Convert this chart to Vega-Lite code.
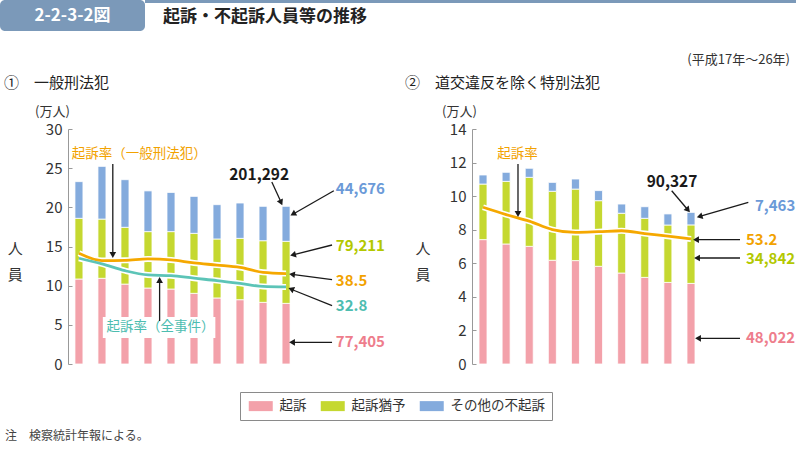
{
"$schema":"https://vega.github.io/schema/vega-lite/v6.json",
"padding":{"left":0,"top":0,"right":0,"bottom":0},
"background":"white",
"config":{"font":"Noto Sans CJK JP","view":{"stroke":null},
"axis":{"labelColor":"#333","domainColor":"#999","tickColor":"#999","grid":false,"labelFontSize":15,"titleFontWeight":"normal","titleColor":"#333","titleFontSize":13}},
"datasets":{
"bars1":[
{"year":17,"c":"起訴","v":10.85,"o":1},{"year":17,"c":"起訴猶予","v":7.75,"o":2},{"year":17,"c":"その他の不起訴","v":4.68,"o":3},
{"year":18,"c":"起訴","v":10.94,"o":1},{"year":18,"c":"起訴猶予","v":7.56,"o":2},{"year":18,"c":"その他の不起訴","v":6.73,"o":3},
{"year":19,"c":"起訴","v":10.2,"o":1},{"year":19,"c":"起訴猶予","v":7.25,"o":2},{"year":19,"c":"その他の不起訴","v":6.08,"o":3},
{"year":20,"c":"起訴","v":9.7,"o":1},{"year":20,"c":"起訴猶予","v":7.2,"o":2},{"year":20,"c":"その他の不起訴","v":5.2,"o":3},
{"year":21,"c":"起訴","v":9.57,"o":1},{"year":21,"c":"起訴猶予","v":7.33,"o":2},{"year":21,"c":"その他の不起訴","v":5.0,"o":3},
{"year":22,"c":"起訴","v":9.02,"o":1},{"year":22,"c":"起訴猶予","v":7.66,"o":2},{"year":22,"c":"その他の不起訴","v":4.72,"o":3},
{"year":23,"c":"起訴","v":8.43,"o":1},{"year":23,"c":"起訴猶予","v":7.53,"o":2},{"year":23,"c":"その他の不起訴","v":4.38,"o":3},
{"year":24,"c":"起訴","v":8.21,"o":1},{"year":24,"c":"起訴猶予","v":7.83,"o":2},{"year":24,"c":"その他の不起訴","v":4.51,"o":3},
{"year":25,"c":"起訴","v":7.87,"o":1},{"year":25,"c":"起訴猶予","v":7.87,"o":2},{"year":25,"c":"その他の不起訴","v":4.39,"o":3},
{"year":26,"c":"起訴","v":7.7405,"o":1},{"year":26,"c":"起訴猶予","v":7.9211,"o":2},{"year":26,"c":"その他の不起訴","v":4.4676,"o":3}],
"bars2":[
{"year":17,"c":"起訴","v":7.41,"o":1},{"year":17,"c":"起訴猶予","v":3.31,"o":2},{"year":17,"c":"その他の不起訴","v":0.54,"o":3},
{"year":18,"c":"起訴","v":7.15,"o":1},{"year":18,"c":"起訴猶予","v":3.73,"o":2},{"year":18,"c":"その他の不起訴","v":0.54,"o":3},
{"year":19,"c":"起訴","v":7.01,"o":1},{"year":19,"c":"起訴猶予","v":4.11,"o":2},{"year":19,"c":"その他の不起訴","v":0.54,"o":3},
{"year":20,"c":"起訴","v":6.18,"o":1},{"year":20,"c":"起訴猶予","v":4.11,"o":2},{"year":20,"c":"その他の不起訴","v":0.53,"o":3},
{"year":21,"c":"起訴","v":6.16,"o":1},{"year":21,"c":"起訴猶予","v":4.26,"o":2},{"year":21,"c":"その他の不起訴","v":0.6,"o":3},
{"year":22,"c":"起訴","v":5.82,"o":1},{"year":22,"c":"起訴猶予","v":3.91,"o":2},{"year":22,"c":"その他の不起訴","v":0.6,"o":3},
{"year":23,"c":"起訴","v":5.42,"o":1},{"year":23,"c":"起訴猶予","v":3.56,"o":2},{"year":23,"c":"その他の不起訴","v":0.55,"o":3},
{"year":24,"c":"起訴","v":5.16,"o":1},{"year":24,"c":"起訴猶予","v":3.52,"o":2},{"year":24,"c":"その他の不起訴","v":0.69,"o":3},
{"year":25,"c":"起訴","v":4.86,"o":1},{"year":25,"c":"起訴猶予","v":3.42,"o":2},{"year":25,"c":"その他の不起訴","v":0.66,"o":3},
{"year":26,"c":"起訴","v":4.8022,"o":1},{"year":26,"c":"起訴猶予","v":3.4842,"o":2},{"year":26,"c":"その他の不起訴","v":0.7463,"o":3}],
"rate1":[
{"year":17,"s":"一般刑法犯","r":47.1},{"year":18,"s":"一般刑法犯","r":44.0},{"year":19,"s":"一般刑法犯","r":44.1},{"year":20,"s":"一般刑法犯","r":44.7},{"year":21,"s":"一般刑法犯","r":44.3},{"year":22,"s":"一般刑法犯","r":43.0},{"year":23,"s":"一般刑法犯","r":42.1},{"year":24,"s":"一般刑法犯","r":41.1},{"year":25,"s":"一般刑法犯","r":39.0},{"year":26,"s":"一般刑法犯","r":38.5},
{"year":17,"s":"全事件","r":45.0},{"year":18,"s":"全事件","r":42.6},{"year":19,"s":"全事件","r":39.7},{"year":20,"s":"全事件","r":37.9},{"year":21,"s":"全事件","r":37.6},{"year":22,"s":"全事件","r":36.5},{"year":23,"s":"全事件","r":35.5},{"year":24,"s":"全事件","r":34.3},{"year":25,"s":"全事件","r":33.0},{"year":26,"s":"全事件","r":32.8}],
"rate2":[
{"year":17,"s":"特別法犯","r":66.7},{"year":18,"s":"特別法犯","r":63.6},{"year":19,"s":"特別法犯","r":60.8},{"year":20,"s":"特別法犯","r":57.2},{"year":21,"s":"特別法犯","r":56.0},{"year":22,"s":"特別法犯","r":56.3},{"year":23,"s":"特別法犯","r":56.7},{"year":24,"s":"特別法犯","r":55.5},{"year":25,"s":"特別法犯","r":54.4},{"year":26,"s":"特別法犯","r":53.2}]
},
"title":{"text":"注　検察統計年報による。","orient":"bottom","anchor":"start","frame":"bounds","dx":5,"offset":10,"fontSize":12,"fontWeight":"normal","color":"#444"},
"spacing":23,
"vconcat":[
{"hconcat":[
 {"width":145,"height":31,"view":{"fill":"#7B99B9","stroke":null,"cornerRadius":5},"data":{"values":[{}]},"mark":{"type":"text","text":"2-2-3-2図","color":"white","fontSize":17,"fontWeight":"bold"}},
 {"width":651,"height":3,"view":{"fill":"#7B99B9","stroke":null},"data":{"values":[{}]},"mark":{"type":"text","text":"","fontSize":0},
  "title":{"text":"起訴・不起訴人員等の推移","orient":"bottom","anchor":"start","frame":"group","dx":18,"offset":6,"fontSize":17,"fontWeight":"bold","color":"#222"}}
],"spacing":0},
{"hconcat":[
{"width":297,"height":235,
 "title":{"text":"①　一般刑法犯","anchor":"start","frame":"group","dx":4,"offset":14,"fontSize":15,"fontWeight":"normal","color":"#222"},
 "layer":[
  {"data":{"name":"bars1"},"mark":{"type":"bar","width":8,"stroke":"white","strokeWidth":0.8},
   "encoding":{
    "x":{"field":"year","type":"quantitative","scale":{"domain":[16.524,26.476],"range":[68,297],"padding":0,"nice":false,"zero":false},
      "axis":{"values":[17,20,26],"labelExpr":"datum.value == 17 ? '平成17' : datum.label","ticks":false,"title":null,"labelPadding":5,"labelFlush":false,
        "labelAlign":{"condition":{"test":"datum.value == 17","value":"right"},"value":"center"},
        "labelOffset":{"condition":{"test":"datum.value == 17","value":7},"value":0}}},
    "y":{"field":"v","type":"quantitative","stack":"zero","scale":{"domain":[0,30],"nice":false},
      "axis":{"orient":"left","offset":-68,"values":[0,5,10,15,20,25,30],"title":"(万人)","titleAngle":0,"titleX":-16,"titleY":-18,"titleAlign":"center","titleBaseline":"middle","tickSize":-4,"labelPadding":10}},
    "color":{"field":"c","type":"nominal","scale":{"domain":["起訴","起訴猶予","その他の不起訴"],"range":["#F3A1AA","#C5D830","#84ABDD"]},
      "legend":{"orient":"none","legendX":240,"legendY":392,"direction":"horizontal","title":null,"strokeColor":"#8a8a8a","padding":7,"symbolType":"M-1,-1H3.8V1H-1Z","symbolSize":100,"symbolStrokeWidth":0,"labelFontSize":13.5,"labelOffset":19,"columnPadding":12,"labelColor":"#333"}},
    "order":{"field":"o","type":"quantitative"}}},
  {"layer":[
   {"data":{"values":[{}]},"mark":{"type":"rect","color":"white"},"encoding":{"x":{"datum":18.038,"axis":null},"x2":{"datum":22.928},"y":{"datum":20.0,"axis":null},"y2":{"datum":11.06}}},
   {"data":{"name":"rate1"},"mark":{"type":"line","color":"white","strokeWidth":6,"interpolate":"monotone"},
    "encoding":{"x":{"field":"year","type":"quantitative","axis":null},"y":{"field":"r","type":"quantitative","scale":{"domain":[0,100],"nice":false},
      "axis":{"orient":"right","values":[0,20,40,60,80,100],"title":"(%)","titleAngle":0,"titleX":16,"titleY":-18,"titleAlign":"center","titleBaseline":"middle","tickSize":-4,"labelPadding":12}},"detail":{"field":"s"}}},
   {"data":{"name":"rate1"},"mark":{"type":"line","strokeWidth":2.8,"interpolate":"monotone"},
    "encoding":{"x":{"field":"year","type":"quantitative","axis":null},"y":{"field":"r","type":"quantitative","axis":null},
     "stroke":{"field":"s","type":"nominal","scale":{"domain":["一般刑法犯","全事件","特別法犯"],"range":["#F5A800","#5CC4B7","#F5A800"]},"legend":null}}},
   {"data":{"values":[{}]},"mark":{"type":"text","text":["人","員"],"lineHeight":26,"align":"center","baseline":"middle","fontSize":15,"color":"#333"},"encoding":{"x":{"datum":14.231,"axis":null},"y":{"datum":48.94,"axis":null}}},
   {"data":{"values":[{}]},"mark":{"type":"text","text":"起訴率（一般刑法犯）","align":"left","baseline":"middle","fontSize":13.5,"color":"#F2A200"},"encoding":{"x":{"datum":16.684,"axis":null},"y":{"datum":89.36,"axis":null}}},
   {"data":{"values":[{}]},"mark":{"type":"text","text":"起訴率（全事件）","align":"left","baseline":"middle","fontSize":13.5,"color":"#4DBDB0"},"encoding":{"x":{"datum":18.199,"axis":null},"y":{"datum":15.6,"axis":null}}},
   {"data":{"values":[{}]},"mark":{"type":"text","text":"201,292","align":"center","baseline":"middle","fontSize":15.5,"fontWeight":"bold","color":"#1a1a1a"},"encoding":{"x":{"datum":24.832,"axis":null},"y":{"datum":80.43,"axis":null}}},
   {"data":{"values":[{}]},"mark":{"type":"text","text":"44,676","align":"left","baseline":"middle","fontSize":15,"fontWeight":"bold","color":"#6B9AD8"},"encoding":{"x":{"datum":28.164,"axis":null},"y":{"datum":74.47,"axis":null}}},
   {"data":{"values":[{}]},"mark":{"type":"text","text":"79,211","align":"left","baseline":"middle","fontSize":15,"fontWeight":"bold","color":"#B3C800"},"encoding":{"x":{"datum":28.164,"axis":null},"y":{"datum":50.34,"axis":null}}},
   {"data":{"values":[{}]},"mark":{"type":"text","text":"38.5","align":"left","baseline":"middle","fontSize":15,"fontWeight":"bold","color":"#F2A200"},"encoding":{"x":{"datum":28.164,"axis":null},"y":{"datum":35.46,"axis":null}}},
   {"data":{"values":[{}]},"mark":{"type":"text","text":"32.8","align":"left","baseline":"middle","fontSize":15,"fontWeight":"bold","color":"#4DBDB0"},"encoding":{"x":{"datum":28.164,"axis":null},"y":{"datum":24.82,"axis":null}}},
   {"data":{"values":[{}]},"mark":{"type":"text","text":"77,405","align":"left","baseline":"middle","fontSize":15,"fontWeight":"bold","color":"#EE7D8C"},"encoding":{"x":{"datum":28.164,"axis":null},"y":{"datum":9.22,"axis":null}}},
   {"data":{"values":[{}]},"mark":{"type":"rule","color":"#1a1a1a","strokeWidth":1.3},"encoding":{"x":{"datum":18.471,"axis":null},"y":{"datum":85.11,"axis":null},"x2":{"datum":18.471},"y2":{"datum":47.66}}},
   {"data":{"values":[{}]},"mark":{"type":"rule","color":"#1a1a1a","strokeWidth":1.3},"encoding":{"x":{"datum":20.505,"axis":null},"y":{"datum":18.3,"axis":null},"x2":{"datum":20.505},"y2":{"datum":34.47}}},
   {"data":{"values":[{}]},"mark":{"type":"rule","color":"#1a1a1a","strokeWidth":1.3},"encoding":{"x":{"datum":25.382,"axis":null},"y":{"datum":77.45,"axis":null},"x2":{"datum":25.741},"y2":{"datum":69.79}}},
   {"data":{"values":[{}]},"mark":{"type":"rule","color":"#1a1a1a","strokeWidth":1.3},"encoding":{"x":{"datum":28.077,"axis":null},"y":{"datum":73.74,"axis":null},"x2":{"datum":26.39},"y2":{"datum":64.26}}},
   {"data":{"values":[{}]},"mark":{"type":"rule","color":"#1a1a1a","strokeWidth":1.3},"encoding":{"x":{"datum":27.999,"axis":null},"y":{"datum":50.64,"axis":null},"x2":{"datum":26.39},"y2":{"datum":46.64}}},
   {"data":{"values":[{}]},"mark":{"type":"rule","color":"#1a1a1a","strokeWidth":1.3},"encoding":{"x":{"datum":27.999,"axis":null},"y":{"datum":35.87,"axis":null},"x2":{"datum":26.347},"y2":{"datum":38.0}}},
   {"data":{"values":[{}]},"mark":{"type":"rule","color":"#1a1a1a","strokeWidth":1.3},"encoding":{"x":{"datum":27.999,"axis":null},"y":{"datum":24.81,"axis":null},"x2":{"datum":26.303},"y2":{"datum":31.49}}},
   {"data":{"values":[{}]},"mark":{"type":"rule","color":"#1a1a1a","strokeWidth":1.3},"encoding":{"x":{"datum":27.999,"axis":null},"y":{"datum":9.23,"axis":null},"x2":{"datum":26.347},"y2":{"datum":9.23}}},
   {"data":{"values":[{}]},"mark":{"type":"point","shape":"triangle-down","filled":true,"size":45,"color":"#1a1a1a","opacity":1},"encoding":{"x":{"datum":18.471,"axis":null},"y":{"datum":46.38,"axis":null}}},
   {"data":{"values":[{}]},"mark":{"type":"point","shape":"triangle-up","filled":true,"size":45,"color":"#1a1a1a","opacity":1},"encoding":{"x":{"datum":20.505,"axis":null},"y":{"datum":35.74,"axis":null}}},
   {"data":{"values":[{}]},"mark":{"type":"point","shape":"triangle-right","angle":64.8,"filled":true,"size":45,"color":"#1a1a1a","opacity":1},"encoding":{"x":{"datum":25.784,"axis":null},"y":{"datum":68.72,"axis":null}}},
   {"data":{"values":[{}]},"mark":{"type":"point","shape":"triangle-right","angle":150.6,"filled":true,"size":45,"color":"#1a1a1a","opacity":1},"encoding":{"x":{"datum":26.303,"axis":null},"y":{"datum":63.83,"axis":null}}},
   {"data":{"values":[{}]},"mark":{"type":"point","shape":"triangle-right","angle":165.9,"filled":true,"size":45,"color":"#1a1a1a","opacity":1},"encoding":{"x":{"datum":26.303,"axis":null},"y":{"datum":46.43,"axis":null}}},
   {"data":{"values":[{}]},"mark":{"type":"point","shape":"triangle-right","angle":187.5,"filled":true,"size":45,"color":"#1a1a1a","opacity":1},"encoding":{"x":{"datum":26.26,"axis":null},"y":{"datum":38.13,"axis":null}}},
   {"data":{"values":[{}]},"mark":{"type":"point","shape":"triangle-right","angle":201.9,"filled":true,"size":45,"color":"#1a1a1a","opacity":1},"encoding":{"x":{"datum":26.221,"axis":null},"y":{"datum":31.87,"axis":null}}},
   {"data":{"values":[{}]},"mark":{"type":"point","shape":"triangle-right","angle":180,"filled":true,"size":45,"color":"#1a1a1a","opacity":1},"encoding":{"x":{"datum":26.26,"axis":null},"y":{"datum":9.23,"axis":null}}}
  ]}
 ],
 "resolve":{"scale":{"y":"independent"}}
},
{"width":302,"height":235,
 "title":{"text":"②　道交違反を除く特別法犯","anchor":"start","frame":"group","dx":5,"offset":14,"fontSize":15,"fontWeight":"normal","color":"#222"},
 "layer":[
  {"data":{"name":"bars2"},"mark":{"type":"bar","width":8,"stroke":"white","strokeWidth":0.8},
   "encoding":{
    "x":{"field":"year","type":"quantitative","scale":{"domain":[16.524,26.476],"range":[72,302],"padding":0,"nice":false,"zero":false},
      "axis":{"values":[17,20,26],"labelExpr":"datum.value == 17 ? '平成17' : datum.label","ticks":false,"title":null,"labelPadding":5,"labelFlush":false,
        "labelAlign":{"condition":{"test":"datum.value == 17","value":"right"},"value":"center"},
        "labelOffset":{"condition":{"test":"datum.value == 17","value":7},"value":0}}},
    "y":{"field":"v","type":"quantitative","stack":"zero","scale":{"domain":[0,14],"nice":false},
      "axis":{"orient":"left","offset":-72,"values":[0,2,4,6,8,10,12,14],"title":"(万人)","titleAngle":0,"titleX":-13,"titleY":-18,"titleAlign":"center","titleBaseline":"middle","tickSize":-4,"labelPadding":10}},
    "color":{"field":"c","type":"nominal","scale":{"domain":["起訴","起訴猶予","その他の不起訴"],"range":["#F3A1AA","#C5D830","#84ABDD"]},
      "legend":{"orient":"none","legendX":240,"legendY":392,"direction":"horizontal","title":null,"strokeColor":"#8a8a8a","padding":7,"symbolType":"M-1,-1H3.8V1H-1Z","symbolSize":100,"symbolStrokeWidth":0,"labelFontSize":13.5,"labelOffset":19,"columnPadding":12,"labelColor":"#333"}},
    "order":{"field":"o","type":"quantitative"}}},
  {"layer":[
   {"data":{"name":"rate2"},"mark":{"type":"line","color":"white","strokeWidth":6,"interpolate":"monotone"},
    "encoding":{"x":{"field":"year","type":"quantitative","axis":null},"y":{"field":"r","type":"quantitative","scale":{"domain":[0,100],"nice":false},
      "axis":{"orient":"right","values":[0,20,40,60,80,100],"title":"(%)","titleAngle":0,"titleX":18,"titleY":-18,"titleAlign":"center","titleBaseline":"middle","tickSize":-4,"labelPadding":12}}}},
   {"data":{"name":"rate2"},"mark":{"type":"line","strokeWidth":2.8,"interpolate":"monotone"},
    "encoding":{"x":{"field":"year","type":"quantitative","axis":null},"y":{"field":"r","type":"quantitative","axis":null},
     "stroke":{"field":"s","type":"nominal","scale":{"domain":["一般刑法犯","全事件","特別法犯"],"range":["#F5A800","#5CC4B7","#F5A800"]},"legend":null}}},
   {"data":{"values":[{}]},"mark":{"type":"text","text":["人","員"],"lineHeight":26,"align":"center","baseline":"middle","fontSize":15,"color":"#333"},"encoding":{"x":{"datum":14.404,"axis":null},"y":{"datum":48.94,"axis":null}}},
   {"data":{"values":[{}]},"mark":{"type":"text","text":"起訴率","align":"center","baseline":"middle","fontSize":13.5,"color":"#F2A200"},"encoding":{"x":{"datum":18.493,"axis":null},"y":{"datum":89.36,"axis":null}}},
   {"data":{"values":[{}]},"mark":{"type":"text","text":"90,327","align":"center","baseline":"middle","fontSize":15.5,"fontWeight":"bold","color":"#1a1a1a"},"encoding":{"x":{"datum":25.178,"axis":null},"y":{"datum":77.45,"axis":null}}},
   {"data":{"values":[{}]},"mark":{"type":"text","text":"7,463","align":"left","baseline":"middle","fontSize":15,"fontWeight":"bold","color":"#6B9AD8"},"encoding":{"x":{"datum":28.77,"axis":null},"y":{"datum":67.1,"axis":null}}},
   {"data":{"values":[{}]},"mark":{"type":"text","text":"53.2","align":"left","baseline":"middle","fontSize":15,"fontWeight":"bold","color":"#F2A200"},"encoding":{"x":{"datum":28.38,"axis":null},"y":{"datum":52.9,"axis":null}}},
   {"data":{"values":[{}]},"mark":{"type":"text","text":"34,842","align":"left","baseline":"middle","fontSize":15,"fontWeight":"bold","color":"#B3C800"},"encoding":{"x":{"datum":28.38,"axis":null},"y":{"datum":44.5,"axis":null}}},
   {"data":{"values":[{}]},"mark":{"type":"text","text":"48,022","align":"left","baseline":"middle","fontSize":15,"fontWeight":"bold","color":"#EE7D8C"},"encoding":{"x":{"datum":28.38,"axis":null},"y":{"datum":10.94,"axis":null}}},
   {"data":{"values":[{}]},"mark":{"type":"rule","color":"#1a1a1a","strokeWidth":1.3},"encoding":{"x":{"datum":18.514,"axis":null},"y":{"datum":85.11,"axis":null},"x2":{"datum":18.514},"y2":{"datum":65.11}}},
   {"data":{"values":[{}]},"mark":{"type":"rule","color":"#1a1a1a","strokeWidth":1.3},"encoding":{"x":{"datum":25.165,"axis":null},"y":{"datum":73.74,"axis":null},"x2":{"datum":25.814},"y2":{"datum":66.17}}},
   {"data":{"values":[{}]},"mark":{"type":"rule","color":"#1a1a1a","strokeWidth":1.3},"encoding":{"x":{"datum":28.48,"axis":null},"y":{"datum":68.81,"axis":null},"x2":{"datum":26.455},"y2":{"datum":62.98}}},
   {"data":{"values":[{}]},"mark":{"type":"rule","color":"#1a1a1a","strokeWidth":1.3},"encoding":{"x":{"datum":28.12,"axis":null},"y":{"datum":52.89,"axis":null},"x2":{"datum":26.303},"y2":{"datum":52.89}}},
   {"data":{"values":[{}]},"mark":{"type":"rule","color":"#1a1a1a","strokeWidth":1.3},"encoding":{"x":{"datum":28.12,"axis":null},"y":{"datum":45.11,"axis":null},"x2":{"datum":26.347},"y2":{"datum":45.11}}},
   {"data":{"values":[{}]},"mark":{"type":"rule","color":"#1a1a1a","strokeWidth":1.3},"encoding":{"x":{"datum":28.12,"axis":null},"y":{"datum":10.94,"axis":null},"x2":{"datum":26.39},"y2":{"datum":10.94}}},
   {"data":{"values":[{}]},"mark":{"type":"point","shape":"triangle-down","filled":true,"size":45,"color":"#1a1a1a","opacity":1},"encoding":{"x":{"datum":18.514,"axis":null},"y":{"datum":63.83,"axis":null}}},
   {"data":{"values":[{}]},"mark":{"type":"point","shape":"triangle-right","angle":49.7,"filled":true,"size":45,"color":"#1a1a1a","opacity":1},"encoding":{"x":{"datum":25.871,"axis":null},"y":{"datum":65.53,"axis":null}}},
   {"data":{"values":[{}]},"mark":{"type":"point","shape":"triangle-right","angle":163.8,"filled":true,"size":45,"color":"#1a1a1a","opacity":1},"encoding":{"x":{"datum":26.373,"axis":null},"y":{"datum":62.77,"axis":null}}},
   {"data":{"values":[{}]},"mark":{"type":"point","shape":"triangle-right","angle":180,"filled":true,"size":45,"color":"#1a1a1a","opacity":1},"encoding":{"x":{"datum":26.217,"axis":null},"y":{"datum":52.89,"axis":null}}},
   {"data":{"values":[{}]},"mark":{"type":"point","shape":"triangle-right","angle":180,"filled":true,"size":45,"color":"#1a1a1a","opacity":1},"encoding":{"x":{"datum":26.26,"axis":null},"y":{"datum":45.11,"axis":null}}},
   {"data":{"values":[{}]},"mark":{"type":"point","shape":"triangle-right","angle":180,"filled":true,"size":45,"color":"#1a1a1a","opacity":1},"encoding":{"x":{"datum":26.303,"axis":null},"y":{"datum":10.94,"axis":null}}}
  ]}
 ],
 "resolve":{"scale":{"y":"independent"}}
}
],"spacing":103,"bounds":"flush",
"title":{"text":"(平成17年～26年)","anchor":"end","frame":"group","dx":790,"offset":9,"fontSize":13,"fontWeight":"normal","color":"#333"}}
]
}
